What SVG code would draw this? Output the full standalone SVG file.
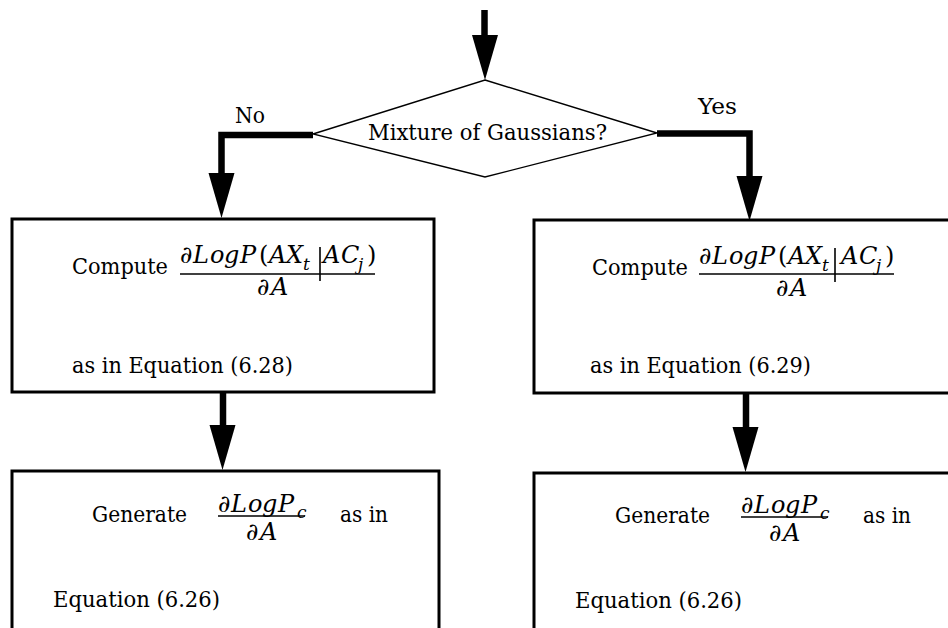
<svg xmlns="http://www.w3.org/2000/svg" width="948" height="628" viewBox="0 0 948 628">
  <style>
    .box { fill: #fff; stroke: #000; stroke-width: 3; }
    .dia { fill: #fff; stroke: #000; stroke-width: 1.4; }
    .wire { fill: none; stroke: #000; stroke-width: 6.5; stroke-linejoin: miter; stroke-linecap: butt; }
    text { font-family: "DejaVu Serif", "Noto Serif", serif; font-size: 22px; fill: #000; }
    .m { font-size: 24px; }
    .it { font-style: italic; }
    .sub { font-style: italic; font-size: 17px; }
    .rule { stroke: #000; stroke-width: 1.3; }
    .bar { stroke: #000; stroke-width: 1.6; }
  </style>
  <defs>
    <path id="head" d="M-13,-45 L13,-45 L0,0 Z" fill="#000"/>
  </defs>
  <rect width="948" height="628" fill="#fff"/>

  <!-- decision -->
  <g id="decision">
    <polygon class="dia" points="485,80 657,133 485,177 313,134"/>
    <text x="368" y="140" textLength="239" lengthAdjust="spacingAndGlyphs">Mixture of Gaussians?</text>
  </g>

  <!-- compute step, mixture branch -->
  <g id="compute-no">
    <rect class="box" x="12" y="219" width="422" height="173"/>
    <text x="72" y="274" textLength="96" lengthAdjust="spacingAndGlyphs">Compute</text>
    <text class="m" y="263"><tspan x="180">∂</tspan><tspan class="it" x="193">L</tspan><tspan class="it" x="210">o</tspan><tspan class="it" x="224">g</tspan><tspan class="it" x="240">P</tspan><tspan x="259">(</tspan><tspan class="it" x="269">A</tspan><tspan class="it" x="286">X</tspan></text>
    <text class="sub" x="303" y="270">t</text>
    <text class="m" y="263"><tspan class="it" x="323">A</tspan><tspan class="it" x="341">C</tspan><tspan x="367">)</tspan></text>
    <text class="sub" x="358" y="270">j</text>
    <text class="m" y="295"><tspan x="257">∂</tspan><tspan class="it" x="271">A</tspan></text>
    <text x="72" y="373" textLength="221" lengthAdjust="spacingAndGlyphs">as in Equation (6.28)</text>
    <line class="bar" x1="320" y1="247" x2="320" y2="281"/>
    <line class="rule" x1="180" y1="274" x2="375" y2="274"/>
  </g>

  <!-- compute step, other branch -->
  <g id="compute-yes">
    <rect class="box" x="534" y="220" width="420" height="173"/>
    <g transform="translate(519,1)">
      <text x="73" y="274" textLength="96" lengthAdjust="spacingAndGlyphs">Compute</text>
      <text class="m" y="263"><tspan x="180">∂</tspan><tspan class="it" x="193">L</tspan><tspan class="it" x="210">o</tspan><tspan class="it" x="224">g</tspan><tspan class="it" x="240">P</tspan><tspan x="259">(</tspan><tspan class="it" x="269">A</tspan><tspan class="it" x="286">X</tspan></text>
      <text class="sub" x="303" y="270">t</text>
      <text class="m" y="263"><tspan class="it" x="322">A</tspan><tspan class="it" x="340">C</tspan><tspan x="366">)</tspan></text>
      <text class="sub" x="357" y="270">j</text>
      <text class="m" y="295"><tspan x="257">∂</tspan><tspan class="it" x="271">A</tspan></text>
      <text x="71" y="372" textLength="221" lengthAdjust="spacingAndGlyphs">as in Equation (6.29)</text>
      <line class="bar" x1="316" y1="247" x2="316" y2="281"/>
      <line class="rule" x1="180" y1="273" x2="375" y2="273"/>
    </g>
  </g>

  <!-- generate step, left -->
  <g id="generate-no">
    <rect class="box" x="12" y="471" width="427" height="170"/>
    <text x="92" y="522" textLength="95" lengthAdjust="spacingAndGlyphs">Generate</text>
    <text class="m" y="512"><tspan x="218">∂</tspan><tspan class="it" x="231">L</tspan><tspan class="it" x="248">o</tspan><tspan class="it" x="262">g</tspan><tspan class="it" x="278">P</tspan></text>
    <text class="sub" x="297" y="518">c</text>
    <text class="m" y="540"><tspan x="246">∂</tspan><tspan class="it" x="260">A</tspan></text>
    <text x="340" y="522" textLength="48" lengthAdjust="spacingAndGlyphs">as in</text>
    <text x="53" y="607" textLength="167" lengthAdjust="spacingAndGlyphs">Equation (6.26)</text>
    <line class="rule" x1="218" y1="516" x2="305" y2="516"/>
  </g>

  <!-- generate step, right -->
  <g id="generate-yes">
    <rect class="box" x="534" y="473" width="420" height="170"/>
    <g transform="translate(523,1)">
      <text x="92" y="522" textLength="95" lengthAdjust="spacingAndGlyphs">Generate</text>
      <text class="m" y="512"><tspan x="218">∂</tspan><tspan class="it" x="231">L</tspan><tspan class="it" x="248">o</tspan><tspan class="it" x="262">g</tspan><tspan class="it" x="278">P</tspan></text>
      <text class="sub" x="297" y="518">c</text>
      <text class="m" y="540"><tspan x="246">∂</tspan><tspan class="it" x="260">A</tspan></text>
      <text x="340" y="522" textLength="48" lengthAdjust="spacingAndGlyphs">as in</text>
      <text x="52" y="607" textLength="167" lengthAdjust="spacingAndGlyphs">Equation (6.26)</text>
      <line class="rule" x1="218" y1="516" x2="305" y2="516"/>
    </g>
  </g>

  <!-- connectors -->
  <g id="connectors">
    <line class="wire" x1="484.5" y1="10" x2="484.5" y2="37"/>
    <use href="#head" x="485" y="80"/>

    <polyline class="wire" points="313,135 221.5,135 221.5,174"/>
    <use href="#head" x="221.5" y="218"/>
    <text x="235" y="123" textLength="30" lengthAdjust="spacingAndGlyphs">No</text>

    <polyline class="wire" points="657,133.5 749.5,133.5 749.5,178"/>
    <use href="#head" x="749.5" y="221"/>
    <text x="698" y="114" textLength="39" lengthAdjust="spacingAndGlyphs">Yes</text>

    <line class="wire" x1="223" y1="392" x2="223" y2="426"/>
    <use href="#head" x="222.5" y="470"/>

    <line class="wire" x1="746" y1="393" x2="746" y2="428"/>
    <use href="#head" x="745.5" y="472"/>
  </g>
</svg>
